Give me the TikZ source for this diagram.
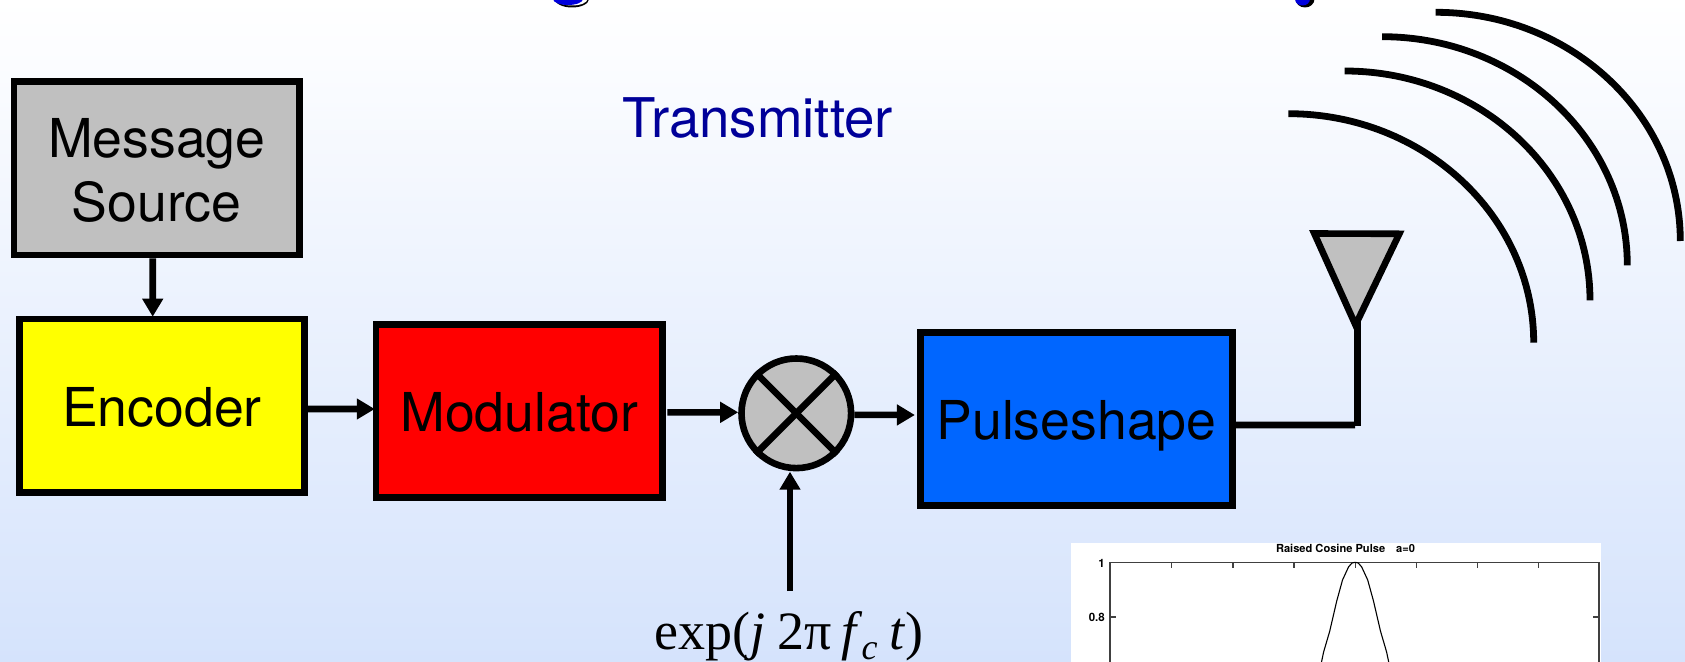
\documentclass[tikz,border=0pt]{standalone}
\usepackage{fontspec}
\setmainfont{TeX Gyre Heros}
\newfontfamily\timesf{Liberation Serif}
\usetikzlibrary{arrows.meta,shapes.geometric}
\definecolor{bgtop}{HTML}{FFFFFF}
\definecolor{bgbot}{HTML}{D5E3FC}
\definecolor{mygray}{HTML}{C0C0C0}
\definecolor{myblue}{HTML}{0066FF}
\definecolor{myyellow}{HTML}{FFFF00}
\definecolor{myred}{HTML}{FF0000}
\definecolor{titleblue}{HTML}{000099}
\definecolor{blobblue}{HTML}{0000DD}
\tikzset{
  x=1bp,y=-1bp,
  blockbox/.style={draw=black,line width=6.6bp,inner sep=0pt,rectangle,
    font=\fontsize{53.6bp}{64bp}\selectfont,align=center},
  singleline/.style={text height=42bp,text depth=0pt},
  wire/.style={draw=black,line width=6.6bp},
  wave/.style={draw=black,line width=6.8bp},
  arr/.style={wire,-{Triangle[length=18bp,width=20bp]}},
  plotaxis/.style={draw=black!75,line width=1.2bp},
  plottext/.style={font=\bfseries\fontsize{11.5bp}{13bp}\selectfont,inner sep=0pt,text=black}
}
\begin{document}
\begin{tikzpicture}
\useasboundingbox (0,0) rectangle (1685,662);
\clip (0,0) rectangle (1685,662);
\shade[top color=bgtop,bottom color=bgbot] (0,0) rectangle (1685,662);

% clipped title remnants
\fill[black] (572,-1) ellipse [x radius=17bp,y radius=8.5bp];
\fill[white] (572,-1) ellipse [x radius=15.5bp,y radius=6.5bp];
\fill[blobblue] (568,-1) ellipse [x radius=15bp,y radius=6bp];
\fill[black] (1305,-1) ellipse [x radius=9.5bp,y radius=8.5bp];
\fill[blobblue] (1302.5,-1) ellipse [x radius=7.5bp,y radius=6.5bp];

% plot
\fill[white] (1071,542.7) rectangle (1601,662);
\draw[plotaxis] (1110,662) -- (1110,562.3) -- (1599,562.3) -- (1599,662);
\foreach \tx in {1171.8,1232.9,1294,1355.1,1416.2,1477.3,1538.4}
  \draw[plotaxis] (\tx,562.3) -- (\tx,567.5);
\draw[plotaxis] (1110,617) -- (1116,617);
\draw[plotaxis] (1599,617) -- (1593,617);
\draw[draw=black,line width=1.1bp,line join=round]
  (1321.5,662) -- (1323.6,652) -- (1329.7,631.2) -- (1336.7,601.1) -- (1342.5,580)
  -- (1348.6,566.8) -- (1352,563) -- (1355.1,562.3) -- (1358.2,563) -- (1361.6,566.8)
  -- (1367.7,580) -- (1373.5,601.1) -- (1380.5,631.2) -- (1386.6,652) -- (1388.7,662);
\node[plottext,font=\bfseries\fontsize{11.1bp}{12bp}\selectfont,anchor=base] (ptitle) at (1345.5,552) {Raised Cosine Pulse\hspace{11bp}a=0};
\node[plottext,anchor=base east] (ylabone) at (1105,567.5) {1};
\node[plottext,anchor=base east] (ylabtwo) at (1105,621.5) {0.8};

% blocks
\node[blockbox,fill=mygray,minimum width=285.5bp,minimum height=173.5bp] (msg) at (156.75,168.25) {\rule{0pt}{42.5bp}Message\\Source};
\node[blockbox,singleline,fill=myyellow,minimum width=285bp,minimum height=173.5bp] (enc) at (162,405.75) {Encoder};
\node[blockbox,singleline,fill=myred,minimum width=286.5bp,minimum height=173.3bp] (mod) at (519.3,410.85) {Modulator};
\node[blockbox,singleline,fill=myblue,minimum width=312bp,minimum height=173.3bp] (pulse) at (1076.5,418.85) {Pulseshape};
\node[circle,draw=black,line width=6.6bp,fill=mygray,inner sep=0pt,minimum size=109.6bp] (mix) at (796.3,413.3) {};
\draw[wire] (mix.45) -- (mix.225);
\draw[wire] (mix.135) -- (mix.-45);

% labels
\node[inner sep=0pt,anchor=base,text=titleblue,font=\fontsize{54.7bp}{60bp}\selectfont] (txlabel) at (757.8,138) {Transmitter};
\node[inner sep=0pt,anchor=base west,font=\timesf\fontsize{54bp}{60bp}\selectfont] (carrier) at (654,649.5)
  {exp(\textit{j}\hspace{12bp}2π\hspace{10bp}\textit{f}\hspace{-1bp}\raisebox{-9.5bp}{\fontsize{36bp}{40bp}\selectfont\textit{c}}\hspace{12bp}\textit{t})};
\coordinate (carriertop) at (790,591);

% connectors
\draw[arr] ([xshift=-4bp]msg.south) -- ([xshift=-9.3bp,yshift=-1bp]enc.north);
\draw[arr] ([yshift=-3.25bp]enc.east) -- ([xshift=2bp,yshift=1.85bp]mod.west);
\draw[arr] ([yshift=-1.5bp,xshift=1.5bp]mod.east) -- (mix.west |- 0,412.3);
\draw[arr] ([yshift=-1.5bp]mix.east) -- ([yshift=3.85bp,xshift=-2.3bp]pulse.west);
\draw[arr] (carriertop) -- (790,471.7);

% antenna
\draw[draw=black,fill=mygray,line width=6.6bp,line join=miter,miter limit=10]
  (1314.3,233.5) -- (1399.3,233.8) -- (1355.5,325) -- cycle;
\coordinate (antfoot) at (1357.7,425.7);
\coordinate (anttip) at (1357.7,320);
\coordinate (antelbow) at (1355,425);
\draw[wire] ([yshift=-6.15bp]pulse.east) -- (antelbow);
\draw[wire] (antfoot) -- (anttip);

% radiated waves
\draw[wave] (1288.3,113.7) arc[start angle=90,end angle=0,x radius=245.4bp,y radius=229bp];
\draw[wave] (1344.7,71) arc[start angle=90,end angle=0,x radius=245.3bp,y radius=229.3bp];
\draw[wave] (1382,36.7) arc[start angle=90,end angle=0,x radius=245.3bp,y radius=228.6bp];
\draw[wave] (1435.7,12.3) arc[start angle=90,end angle=0,x radius=244.6bp,y radius=228.7bp];
\end{tikzpicture}
\end{document}
